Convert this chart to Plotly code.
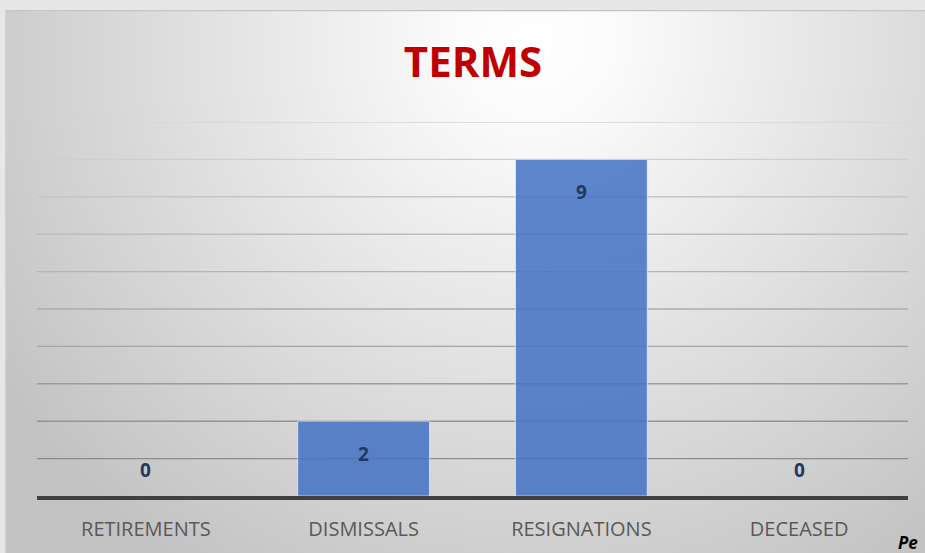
import base64
import plotly.graph_objects as go

categories = ["RETIREMENTS", "DISMISSALS", "RESIGNATIONS", "DECEASED"]
values = [0, 2, 9, 0]
grid_levels = [1, 2, 3, 4, 5, 6, 7, 8, 9, 10]
title_text = "TERMS"

W, H = 925, 553
ML, MR, MT, MB = 37, 17, 122, 57
PW, PH = W - ML - MR, H - MT - MB

# radial gradient background (chart area) as an SVG image
svg = f'''<svg xmlns="http://www.w3.org/2000/svg" width="920" height="543" viewBox="0 0 920 543" preserveAspectRatio="none">
<defs><radialGradient id="g" gradientUnits="userSpaceOnUse" cx="530" cy="30" r="640">
<stop offset="0" stop-color="#ffffff"/><stop offset="0.12" stop-color="#fbfbfb"/>
<stop offset="1" stop-color="#c2c2c2"/></radialGradient></defs>
<rect x="0" y="0" width="920" height="543" fill="url(#g)"/>
<line x1="0" y1="0.5" x2="920" y2="0.5" stroke="#c4c4c4" stroke-width="1.5"/>
<line x1="0.5" y1="0" x2="0.5" y2="543" stroke="#d0d0d0" stroke-width="1.5"/>
</svg>'''
src = "data:image/svg+xml;base64," + base64.b64encode(svg.encode()).decode()

def px_x(px):
    return (px - ML) / PW

def px_y(py):
    return (H - MB - py) / PH

fig = go.Figure()
fig.add_trace(go.Bar(
    x=categories, y=values, width=0.605,
    marker=dict(color="rgba(68,114,196,0.86)",
                line=dict(color="rgba(255,255,255,0.55)", width=[1 if v > 0 else 0 for v in values])),
    hoverinfo="skip",
))

# gridlines with colour fading towards the top
shapes = []
for lv in grid_levels:
    t = (lv - 1) / 9.0
    c0, c1 = 0x8c, 0xd6
    c = int(round(c0 + (c1 - c0) * t))
    col = f"rgb({c},{c},{c})"
    shapes.append(dict(type="line", xref="paper", yref="y", x0=0, x1=1, y0=lv, y1=lv,
                       line=dict(color=col, width=1.4), layer="below"))

annotations = []
for cat, v in zip(categories, values):
    if v > 0:
        annotations.append(dict(x=cat, y=v, xref="x", yref="y", text=f"<b>{v}</b>", showarrow=False,
                                yanchor="top", yshift=-18,
                                font=dict(family="Open Sans", size=19, color="#1f3864")))
    else:
        annotations.append(dict(x=cat, y=v, xref="x", yref="y", text=f"<b>{v}</b>", showarrow=False,
                                yanchor="bottom", yshift=11,
                                font=dict(family="Open Sans", size=19, color="#1f3864")))

annotations.append(dict(x=px_x(896), y=px_y(542), xref="paper", yref="paper", text="<b><i>Pe</i></b>",
                        showarrow=False, xanchor="left", yanchor="middle",
                        font=dict(family="Open Sans", size=17, color="#000000")))

fig.update_layout(
    width=W, height=H,
    margin=dict(l=ML, r=MR, t=MT, b=MB, pad=0, autoexpand=False),
    paper_bgcolor="#e7e7e7", plot_bgcolor="rgba(0,0,0,0)",
    showlegend=False,
    title=dict(text=f"<b>{title_text}</b>", x=px_x(473), xref="paper", y=1 - 62 / H, yref="container",
               xanchor="center", yanchor="middle",
               font=dict(family="Open Sans", size=42, color="#c00000")),
    images=[dict(source=src, xref="paper", yref="paper", x=px_x(5), y=px_y(10),
                 sizex=(W - 5) / PW, sizey=(H - 10) / PH, xanchor="left", yanchor="top",
                 sizing="stretch", layer="below")],
    shapes=shapes,
    annotations=annotations,
    bargap=0.4,
)
fig.update_xaxes(showgrid=False, showline=True, linecolor="#404040", linewidth=3.5,
                 zeroline=False, ticks="", automargin=False,
                 tickfont=dict(family="Open Sans", size=20, color="#595959"),
                 ticklabelstandoff=12, fixedrange=True)
fig.update_yaxes(range=[0, 10], showgrid=False, zeroline=False, showline=False, automargin=False,
                 showticklabels=False, ticks="", fixedrange=True)

fig.write_html("out.html", config={"displayModeBar": False},
               post_script="document.body.style.margin='0';document.body.style.overflow='hidden';")
